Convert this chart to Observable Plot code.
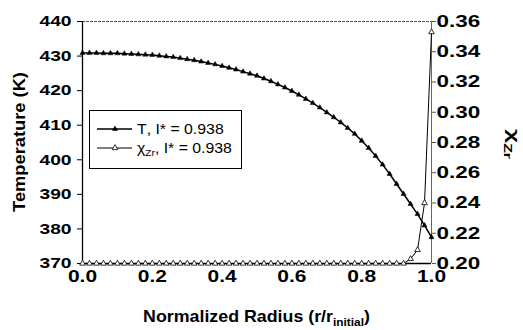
<!DOCTYPE html>
<html><head><meta charset="utf-8">
<script src="https://cdn.jsdelivr.net/npm/d3@7"></script>
<script src="https://cdn.jsdelivr.net/npm/@observablehq/plot@0.6"></script>
<style>html,body{margin:0;padding:0;background:#fff} svg{display:block}</style>
</head><body><div id="chart"></div>
<script>
// ---- data ----
const radius = [0.00,0.02,0.04,0.06,0.08,0.10,0.12,0.14,0.16,0.18,
  0.20,0.22,0.24,0.26,0.28,0.30,0.32,0.34,0.36,0.38,
  0.40,0.42,0.44,0.46,0.48,0.50,0.52,0.54,0.56,0.58,
  0.60,0.62,0.64,0.66,0.68,0.70,0.72,0.74,0.76,0.78,
  0.80,0.82,0.84,0.86,0.88,0.90,0.92,0.94,0.96,0.98,1.00];
const temperature = [430.9,430.9,430.9,430.8,430.8,430.8,430.7,430.6,430.5,430.4,
  430.3,430.1,429.9,429.7,429.4,429.1,428.8,428.4,428.0,427.6,
  427.1,426.6,426.1,425.5,424.9,424.3,423.5,422.7,421.8,420.9,
  419.9,418.8,417.6,416.4,415.1,413.7,412.3,410.8,409.2,407.5,
  405.5,403.4,401.1,398.6,395.9,393.0,390.1,387.2,384.3,381.0,377.6];
const chiZr = [0.200,0.200,0.200,0.200,0.200,0.200,0.200,0.200,0.200,0.200,
  0.200,0.200,0.200,0.200,0.200,0.200,0.200,0.200,0.200,0.200,
  0.200,0.200,0.200,0.200,0.200,0.200,0.200,0.200,0.200,0.200,
  0.200,0.200,0.200,0.200,0.200,0.200,0.200,0.200,0.200,0.200,
  0.200,0.200,0.200,0.200,0.200,0.200,0.200,0.203,0.209,0.240,0.353];
const radiusTicks = [0.0,0.2,0.4,0.6,0.8,1.0];
const tempTicks = [370,380,390,400,410,420,430,440];
const chiTicks = [0.20,0.22,0.24,0.26,0.28,0.30,0.32,0.34,0.36];
const seriesNames = ["T", "χ"];
const legendSuffix = ", I* = 0.938";

// ---- secondary axis mapping (χ domain 0.20–0.36 onto T domain 370–440) ----
const chiToT = c => 370 + (c - 0.20) * (70 / 0.16);
const tToChi = t => 0.20 + (t - 370) * (0.16 / 70);

const rows = radius.map((r, i) => ({r, T: temperature[i], chiT: chiToT(chiZr[i])}));

const plot = Plot.plot({
  width: 523, height: 330,
  marginLeft: 82, marginRight: 92, marginTop: 21, marginBottom: 67,
  style: {fontFamily: "'Liberation Sans', Arial, sans-serif", fontSize: "15px", fontWeight: "bold", color: "#000", background: "#fff"},
  x: {domain: [0, 1]},
  y: {domain: [370, 440]},
  marks: [
    Plot.ruleY([440], {stroke: "#555", strokeWidth: 1, strokeDasharray: "3,1"}),
    Plot.ruleX([1], {stroke: "#666", strokeWidth: 1}),
    Plot.axisX(radiusTicks, {tickSize: 0, tickPadding: 7, tickFormat: d => d.toFixed(1), label: null, fontSize: 16.5}),
    Plot.axisY(tempTicks, {anchor: "left", tickSize: 5, tickPadding: 6, label: null}),
    Plot.axisY(chiTicks.map(chiToT), {anchor: "right", tickSize: 4, tickPadding: 1, stroke: "#555", tickFormat: t => tToChi(t).toFixed(2), label: null, fontSize: 16.5}),
    Plot.ruleX([0], {stroke: "#000", strokeWidth: 1.3}),
    Plot.ruleY([370], {stroke: "#000", strokeWidth: 1.3}),
    Plot.line(rows, {x: "r", y: "chiT", stroke: "#000", strokeWidth: 1}),
    Plot.dot(rows, {x: "r", y: "chiT", symbol: "triangle", r: 2.1, fill: "#fff", stroke: "#000", strokeWidth: 0.8}),
    Plot.line(rows, {x: "r", y: "T", stroke: "#000", strokeWidth: 1.5}),
    Plot.dot(rows, {x: "r", y: "T", symbol: "triangle", r: 1.9, fill: "#000", stroke: "#000", strokeWidth: 0.5})
  ]
});
document.getElementById("chart").append(plot);

const svg = d3.select(plot);

// horizontally stretched lettering, as in the reference
function stretch(sel, factor) {
  sel.each(function() {
    const len = this.getComputedTextLength();
    if (len > 0) {
      this.setAttribute("textLength", (len * factor).toFixed(2));
      this.setAttribute("lengthAdjust", "spacingAndGlyphs");
    }
  });
}
stretch(svg.selectAll("g[aria-label='x-axis tick label'] text"), 1.27);
const yLabelGroups = svg.selectAll("g[aria-label='y-axis tick label']").nodes();
if (yLabelGroups[0]) stretch(d3.select(yLabelGroups[0]).selectAll("text"), 1.28);
if (yLabelGroups[1]) stretch(d3.select(yLabelGroups[1]).selectAll("text"), 1.36);

// axis titles
function title(parts, x, y, rotate, size, targetLen) {
  const t = svg.append("text")
    .attr("font-family", "'Liberation Sans', Arial, sans-serif")
    .attr("font-weight", "bold").attr("font-size", size)
    .attr("text-anchor", "middle").attr("fill", "#000");
  parts.forEach(p => {
    const s = t.append("tspan").text(p.text);
    if (p.sub) s.attr("font-size", p.sub).attr("baseline-shift", p.shift);
  });
  const len = t.node().getComputedTextLength();
  const k = targetLen / len;
  t.attr("transform", `translate(${x},${y}) rotate(${rotate}) scale(${k},1)`);
  return t;
}
title([{text: "Temperature (K)"}], 25, 142, -90, 16, 140);
title([{text: "Normalized Radius (r/r"}, {text: "initial", sub: 11, shift: -4}, {text: ")", sub: 16.5, shift: 0}], 256.5, 322, 0, 16.5, 227);
title([{text: "χ"}, {text: "Zr", sub: 11, shift: -4}], 508, 144, 90, 17, 30);

// legend box
const lg = svg.append("g");
lg.append("rect").attr("x", 89.5).attr("y", 110.5).attr("width", 152).attr("height", 58)
  .attr("fill", "#fff").attr("stroke", "#000").attr("stroke-width", 1);
const legendRows = [
  {name: seriesNames[0], sub: null, y: 129, fill: "#000", r: 1.9, sw: 1.5, target: 85},
  {name: seriesNames[1], sub: "Zr", y: 148, fill: "#fff", r: 2.1, sw: 1, target: 95}
];
legendRows.forEach((row, i) => {
  lg.append("line").attr("x1", 97).attr("x2", 132).attr("y1", row.y).attr("y2", row.y)
    .attr("stroke", "#000").attr("stroke-width", row.sw);
  lg.append("path").attr("d", d3.symbol(d3.symbolTriangle, Math.PI * row.r * row.r)())
    .attr("transform", `translate(115,${row.y})`)
    .attr("fill", row.fill).attr("stroke", "#000").attr("stroke-width", i === 0 ? 0.5 : 0.8);
  const t = lg.append("text").attr("font-family", "'Liberation Sans', Arial, sans-serif")
    .attr("font-size", 14).attr("font-weight", "normal").attr("text-anchor", "start").attr("fill", "#000");
  t.append("tspan").text(row.name);
  if (row.sub) t.append("tspan").text(row.sub).attr("font-size", 9).attr("baseline-shift", -3);
  t.append("tspan").text(legendSuffix).attr("baseline-shift", 0);
  const len = t.node().getComputedTextLength();
  t.attr("transform", `translate(137,${row.y + 5}) scale(${row.target / len},1)`);
});
</script>
</body></html>
